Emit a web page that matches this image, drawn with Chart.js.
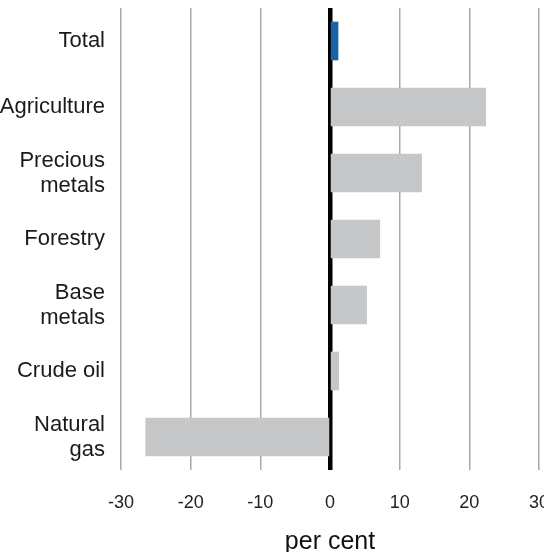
<!DOCTYPE html>
<html>
<head>
<meta charset="utf-8">
<script src="https://cdn.jsdelivr.net/npm/chart.js@4/dist/chart.umd.min.js"></script>
<style>
  html, body { margin: 0; padding: 0; background: #ffffff; }
  #wrap { width: 544px; height: 552px; position: relative; }
</style>
</head>
<body>
<div id="wrap"><canvas id="c"></canvas></div>
<script>
const categories = ['Total', 'Agriculture', ['Precious', 'metals'], 'Forestry', ['Base', 'metals'], 'Crude oil', ['Natural', 'gas']];
const changeValues = [1.2, 22.4, 13.2, 7.2, 5.3, 1.3, -26.5];
const barColors = ['#1862a6', '#c5c7c9', '#c5c7c9', '#c5c7c9', '#c5c7c9', '#c5c7c9', '#c5c7c9'];
const xMin = -30, xMax = 30, xStep = 10;
const axisTitle = 'per cent';

const FONT = "'Liberation Sans', Arial, Helvetica, sans-serif";

new Chart(document.getElementById('c'), {
  type: 'bar',
  data: {
    labels: categories,
    datasets: [{
      data: changeValues,
      backgroundColor: barColors,
      borderWidth: 0,
      categoryPercentage: 1,
      barPercentage: 0.585
    }]
  },
  options: {
    indexAxis: 'y',
    responsive: true,
    maintainAspectRatio: false,
    animation: false,
    layout: { padding: { top: 8, right: 5, left: 0, bottom: 0 } },
    plugins: { legend: { display: false }, tooltip: { enabled: false } },
    scales: {
      x: {
        type: 'linear',
        position: 'bottom',
        min: xMin, max: xMax,
        ticks: {
          stepSize: xStep,
          padding: 22,
          color: '#222',
          font: { family: FONT, size: 18 }
        },
        grid: {
          drawTicks: false,
          color: '#a9a9a9',
          lineWidth: 1.5
        },
        border: { display: false },
        title: {
          display: true,
          text: axisTitle,
          color: '#111',
          font: { family: FONT, size: 25, lineHeight: 1 },
          padding: { top: 0, bottom: -3 }
        },
        afterFit: (s) => { s.height = 82; s.paddingLeft = 0; s.paddingRight = 0; }
      },
      x2: {
        type: 'linear',
        axis: 'x',
        position: 'top',
        min: xMin, max: xMax,
        z: 1,
        ticks: { display: false, stepSize: xStep },
        grid: {
          drawTicks: false,
          color: (ctx) => ctx.tick && ctx.tick.value === 0 ? '#000000' : 'rgba(0,0,0,0)',
          lineWidth: (ctx) => ctx.tick && ctx.tick.value === 0 ? 4.5 : 0
        },
        border: { display: false },
        afterFit: (s) => { s.height = 0; s.paddingLeft = 0; s.paddingRight = 0; }
      },
      y: {
        type: 'category',
        ticks: {
          padding: 16,
          color: '#1a1a1a',
          font: { family: FONT, size: 22, lineHeight: 1.14 }
        },
        grid: { display: false, drawTicks: false },
        border: { display: false },
        afterFit: (s) => { s.width = 121; s.paddingTop = 0; s.paddingBottom = 0; }
      }
    }
  }
});
</script>
</body>
</html>
